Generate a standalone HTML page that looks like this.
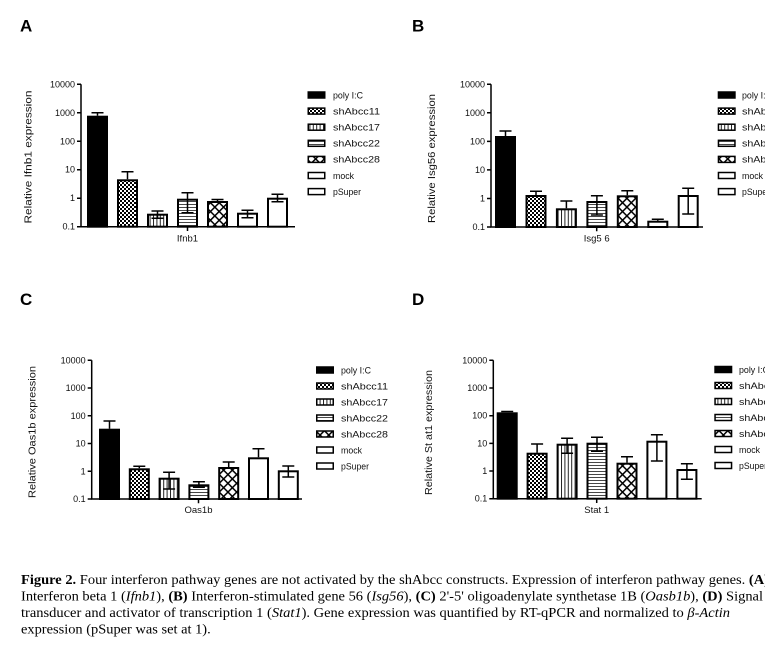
<!DOCTYPE html>
<html><head><meta charset="utf-8"><style>
html,body{margin:0;padding:0;background:#fff;}
svg{display:block;}
.t{font-family:"Liberation Sans",sans-serif;fill:#111;}
.tk{font-size:9px;text-anchor:end;}
.lg{font-size:9.5px;}
.yl{font-size:10px;text-anchor:middle;}
.xl{font-size:9.5px;text-anchor:middle;}
.pl{font-family:"Liberation Sans",sans-serif;font-weight:bold;font-size:17px;fill:#000;}
.cap{font-family:"Liberation Serif",serif;font-size:13.8px;fill:#000;}
</style></head><body>
<svg width="765" height="645" viewBox="0 0 765 645" xmlns="http://www.w3.org/2000/svg">
<defs>
<pattern id="chk" width="4" height="4" patternUnits="userSpaceOnUse"><rect width="4" height="4" fill="#fff"/><rect width="2" height="2" fill="#000"/><rect x="2" y="2" width="2" height="2" fill="#000"/></pattern>
<pattern id="vs" width="3.4" height="4" patternUnits="userSpaceOnUse"><rect width="3.4" height="4" fill="#fff"/><rect width="1" height="4" fill="#222"/></pattern>
<pattern id="hs" width="4" height="3" patternUnits="userSpaceOnUse"><rect width="4" height="3" fill="#fff"/><rect width="4" height="0.9" fill="#333"/></pattern>
<pattern id="xh" width="6.2" height="6.2" patternUnits="userSpaceOnUse" patternTransform="rotate(45)"><rect width="6.2" height="6.2" fill="#fff"/><rect width="1.5" height="6.2" fill="#000"/><rect width="6.2" height="1.5" fill="#000"/></pattern>
</defs>

<!-- Panel letters -->
<text class="pl" x="20" y="31.5">A</text>
<text class="pl" x="412" y="31.5">B</text>
<text class="pl" x="20" y="305">C</text>
<text class="pl" x="412" y="305">D</text>

<!-- ================= PANEL A ================= -->
<g stroke="#000" stroke-width="1.5" fill="none">
<path d="M81 84.3V226.7H295"/>
<path d="M77 84.3H81M77 112.8H81M77 141.3H81M77 169.7H81M77 198.2H81M77 226.7H81M187.5 226.7V231"/>
</g>
<g class="t tk">
<text x="75" y="87.3">10000</text><text x="75" y="115.8">1000</text><text x="75" y="144.3">100</text><text x="75" y="172.7">10</text><text x="75" y="201.2">1</text><text x="75" y="229.7">0.1</text>
</g>
<text class="t yl" transform="translate(31.5,157) rotate(-90)" textLength="133" lengthAdjust="spacingAndGlyphs">Relative  Ifnb1  expression</text>
<text class="t xl" x="187.5" y="241.5">Ifnb1</text>
<g stroke="#000" stroke-width="2">
<rect x="88" y="116.7" width="19" height="110" fill="#000"/>
<rect x="118" y="180.3" width="19" height="46.4" fill="url(#chk)"/>
<rect x="148" y="214.7" width="19" height="12" fill="url(#vs)"/>
<rect x="178" y="199.7" width="19" height="27" fill="url(#hs)"/>
<rect x="208" y="202" width="19" height="24.7" fill="url(#xh)"/>
<rect x="238" y="213.7" width="19" height="13" fill="#fff"/>
<rect x="268" y="198.7" width="19" height="28" fill="#fff"/>
</g>
<g stroke="#000" stroke-width="1.5" fill="none">
<path d="M97.5 115.7V112.7M91.5 112.7H103.5"/>
<path d="M127.5 179.3V171.7M121.5 171.7H133.5"/>
<path d="M157.5 218.3V211M151.5 211H163.5M151.5 218.3H163.5"/>
<path d="M187.5 212.7V192.7M181.5 192.7H193.5M181.5 212.7H193.5"/>
<path d="M217.5 201V199.5M211.5 199.5H223.5"/>
<path d="M247.5 217.7V210.3M241.5 210.3H253.5M241.5 217.7H253.5"/>
<path d="M277.5 201.7V194.3M271.5 194.3H283.5M271.5 201.7H283.5"/>
</g>
<g stroke="#000" stroke-width="1.5">
<rect x="308.25" y="92" width="16.5" height="6" fill="#000"/>
<rect x="308.25" y="108.1" width="16.5" height="6" fill="url(#chk)"/>
<rect x="308.25" y="124.2" width="16.5" height="6" fill="url(#vs)"/>
<rect x="308.25" y="140.3" width="16.5" height="6" fill="url(#hs)"/>
<rect x="308.25" y="156.4" width="16.5" height="6" fill="url(#xh)"/>
<rect x="308.25" y="172.5" width="16.5" height="6" fill="#fff"/>
<rect x="308.25" y="188.6" width="16.5" height="6" fill="#fff"/>
</g>
<g class="t lg">
<text x="333" y="98.3" textLength="30" lengthAdjust="spacingAndGlyphs">poly I:C</text>
<text x="333" y="114.4" textLength="47" lengthAdjust="spacingAndGlyphs">shAbcc11</text>
<text x="333" y="130.5" textLength="47" lengthAdjust="spacingAndGlyphs">shAbcc17</text>
<text x="333" y="146.6" textLength="47" lengthAdjust="spacingAndGlyphs">shAbcc22</text>
<text x="333" y="162.7" textLength="47" lengthAdjust="spacingAndGlyphs">shAbcc28</text>
<text x="333" y="178.8" textLength="21" lengthAdjust="spacingAndGlyphs">mock</text>
<text x="333" y="194.9" textLength="28" lengthAdjust="spacingAndGlyphs">pSuper</text>
</g>

<!-- ================= PANEL B ================= -->
<g stroke="#000" stroke-width="1.5" fill="none">
<path d="M491 84.3V227H703"/>
<path d="M487 84.3H491M487 112.8H491M487 141.4H491M487 169.9H491M487 198.5H491M487 227H491M596.7 227V231.3"/>
</g>
<g class="t tk">
<text x="485" y="87.3">10000</text><text x="485" y="115.8">1000</text><text x="485" y="144.4">100</text><text x="485" y="172.9">10</text><text x="485" y="201.5">1</text><text x="485" y="230">0.1</text>
</g>
<text class="t yl" transform="translate(435.2,158.5) rotate(-90)" textLength="129" lengthAdjust="spacingAndGlyphs">Relative  Isg56 expression</text>
<text class="t xl" x="596.7" y="241.5">Isg5 6</text>
<g stroke="#000" stroke-width="2">
<rect x="496" y="137" width="19" height="90" fill="#000"/>
<rect x="526.5" y="196" width="19" height="31" fill="url(#chk)"/>
<rect x="556.9" y="209.3" width="19" height="17.7" fill="url(#vs)"/>
<rect x="587.4" y="202" width="19" height="25" fill="url(#hs)"/>
<rect x="617.8" y="196.3" width="19" height="30.7" fill="url(#xh)"/>
<rect x="648.3" y="221.7" width="19" height="5.3" fill="#fff"/>
<rect x="678.7" y="196" width="19" height="31" fill="#fff"/>
</g>
<g stroke="#000" stroke-width="1.5" fill="none">
<path d="M505.5 136V131M499.5 131H511.5"/>
<path d="M536 195V191.3M530 191.3H542"/>
<path d="M566.4 208.3V201M560.4 201H572.4"/>
<path d="M596.9 215V195.7M590.9 195.7H602.9M590.9 215H602.9"/>
<path d="M627.3 195.3V190.7M621.3 190.7H633.3"/>
<path d="M657.8 220.7V219.2M651.8 219.2H663.8"/>
<path d="M688.2 214V188.3M682.2 188.3H694.2M682.2 214H694.2"/>
</g>
<g stroke="#000" stroke-width="1.5">
<rect x="718.45" y="92" width="16.5" height="6" fill="#000"/>
<rect x="718.45" y="108.1" width="16.5" height="6" fill="url(#chk)"/>
<rect x="718.45" y="124.2" width="16.5" height="6" fill="url(#vs)"/>
<rect x="718.45" y="140.3" width="16.5" height="6" fill="url(#hs)"/>
<rect x="718.45" y="156.4" width="16.5" height="6" fill="url(#xh)"/>
<rect x="718.45" y="172.5" width="16.5" height="6" fill="#fff"/>
<rect x="718.45" y="188.6" width="16.5" height="6" fill="#fff"/>
</g>
<g class="t lg">
<text x="742" y="98.3" textLength="30" lengthAdjust="spacingAndGlyphs">poly I:C</text>
<text x="742" y="114.4" textLength="47" lengthAdjust="spacingAndGlyphs">shAbcc11</text>
<text x="742" y="130.5" textLength="47" lengthAdjust="spacingAndGlyphs">shAbcc17</text>
<text x="742" y="146.6" textLength="47" lengthAdjust="spacingAndGlyphs">shAbcc22</text>
<text x="742" y="162.7" textLength="47" lengthAdjust="spacingAndGlyphs">shAbcc28</text>
<text x="742" y="178.8" textLength="21" lengthAdjust="spacingAndGlyphs">mock</text>
<text x="742" y="194.9" textLength="28" lengthAdjust="spacingAndGlyphs">pSuper</text>
</g>

<!-- ================= PANEL C ================= -->
<g stroke="#000" stroke-width="1.5" fill="none">
<path d="M91.7 360.3V499H302"/>
<path d="M87.7 360.3H91.7M87.7 388H91.7M87.7 415.8H91.7M87.7 443.5H91.7M87.7 471.3H91.7M87.7 499H91.7M198.5 499V503.3"/>
</g>
<g class="t tk">
<text x="85.7" y="363.3">10000</text><text x="85.7" y="391">1000</text><text x="85.7" y="418.8">100</text><text x="85.7" y="446.5">10</text><text x="85.7" y="474.3">1</text><text x="85.7" y="502">0.1</text>
</g>
<text class="t yl" transform="translate(35.5,432) rotate(-90)" textLength="132" lengthAdjust="spacingAndGlyphs">Relative Oas1b  expression</text>
<text class="t xl" x="198.5" y="513">Oas1b</text>
<g stroke="#000" stroke-width="2">
<rect x="100" y="429.7" width="19" height="69.3" fill="#000"/>
<rect x="129.8" y="469.3" width="19" height="29.7" fill="url(#chk)"/>
<rect x="159.6" y="478.7" width="19" height="20.3" fill="url(#vs)"/>
<rect x="189.4" y="485.3" width="19" height="13.7" fill="url(#hs)"/>
<rect x="219.2" y="468" width="19" height="31" fill="url(#xh)"/>
<rect x="249" y="458.3" width="19" height="40.7" fill="#fff"/>
<rect x="278.8" y="471.3" width="19" height="27.7" fill="#fff"/>
</g>
<g stroke="#000" stroke-width="1.5" fill="none">
<path d="M109.5 428.7V421M103.5 421H115.5"/>
<path d="M139.3 468.3V466.3M133.3 466.3H145.3"/>
<path d="M169.1 489V472.3M163.1 472.3H175.1M163.1 489H175.1"/>
<path d="M198.9 487.3V481.7M192.9 481.7H204.9M192.9 487.3H204.9"/>
<path d="M228.7 467V462M222.7 462H234.7"/>
<path d="M258.5 457.3V448.7M252.5 448.7H264.5"/>
<path d="M288.3 477V466M282.3 466H294.3M282.3 477H294.3"/>
</g>
<g stroke="#000" stroke-width="1.5">
<rect x="316.75" y="367" width="16.5" height="6" fill="#000"/>
<rect x="316.75" y="383" width="16.5" height="6" fill="url(#chk)"/>
<rect x="316.75" y="399" width="16.5" height="6" fill="url(#vs)"/>
<rect x="316.75" y="415" width="16.5" height="6" fill="url(#hs)"/>
<rect x="316.75" y="431" width="16.5" height="6" fill="url(#xh)"/>
<rect x="316.75" y="447" width="16.5" height="6" fill="#fff"/>
<rect x="316.75" y="463" width="16.5" height="6" fill="#fff"/>
</g>
<g class="t lg">
<text x="341" y="373.3" textLength="30" lengthAdjust="spacingAndGlyphs">poly I:C</text>
<text x="341" y="389.3" textLength="47" lengthAdjust="spacingAndGlyphs">shAbcc11</text>
<text x="341" y="405.3" textLength="47" lengthAdjust="spacingAndGlyphs">shAbcc17</text>
<text x="341" y="421.3" textLength="47" lengthAdjust="spacingAndGlyphs">shAbcc22</text>
<text x="341" y="437.3" textLength="47" lengthAdjust="spacingAndGlyphs">shAbcc28</text>
<text x="341" y="453.3" textLength="21" lengthAdjust="spacingAndGlyphs">mock</text>
<text x="341" y="469.3" textLength="28" lengthAdjust="spacingAndGlyphs">pSuper</text>
</g>

<!-- ================= PANEL D ================= -->
<g stroke="#000" stroke-width="1.5" fill="none">
<path d="M493.3 360.3V498.7H701.7"/>
<path d="M489.3 360.3H493.3M489.3 388H493.3M489.3 415.7H493.3M489.3 443.4H493.3M489.3 471H493.3M489.3 498.7H493.3M596.7 498.7V503"/>
</g>
<g class="t tk">
<text x="487.3" y="363.3">10000</text><text x="487.3" y="391">1000</text><text x="487.3" y="418.7">100</text><text x="487.3" y="446.4">10</text><text x="487.3" y="474">1</text><text x="487.3" y="501.7">0.1</text>
</g>
<text class="t yl" transform="translate(431.8,432.5) rotate(-90)" textLength="125" lengthAdjust="spacingAndGlyphs">Relative  St at1 expression</text>
<text class="t xl" x="596.7" y="513">Stat 1</text>
<g stroke="#000" stroke-width="2">
<rect x="497.7" y="413.3" width="19" height="85.4" fill="#000"/>
<rect x="527.6" y="453.7" width="19" height="45" fill="url(#chk)"/>
<rect x="557.6" y="444.7" width="19" height="54" fill="url(#vs)"/>
<rect x="587.5" y="443.7" width="19" height="55" fill="url(#hs)"/>
<rect x="617.5" y="463.7" width="19" height="35" fill="url(#xh)"/>
<rect x="647.4" y="441.7" width="19" height="57" fill="#fff"/>
<rect x="677.4" y="470" width="19" height="28.7" fill="#fff"/>
</g>
<g stroke="#000" stroke-width="1.5" fill="none">
<path d="M507.2 412.3V411.5M501.2 411.5H513.2"/>
<path d="M537.1 452.7V444M531.1 444H543.1"/>
<path d="M567.1 453.3V438.3M561.1 438.3H573.1M561.1 453.3H573.1"/>
<path d="M597 451.3V437.3M591 437.3H603M591 451.3H603"/>
<path d="M627 462.7V456.7M621 456.7H633"/>
<path d="M656.9 461V434.7M650.9 434.7H662.9M650.9 461H662.9"/>
<path d="M686.9 479.3V463.7M680.9 463.7H692.9M680.9 479.3H692.9"/>
</g>
<g stroke="#000" stroke-width="1.5">
<rect x="715.05" y="366.5" width="16.5" height="6" fill="#000"/>
<rect x="715.05" y="382.5" width="16.5" height="6" fill="url(#chk)"/>
<rect x="715.05" y="398.5" width="16.5" height="6" fill="url(#vs)"/>
<rect x="715.05" y="414.5" width="16.5" height="6" fill="url(#hs)"/>
<rect x="715.05" y="430.5" width="16.5" height="6" fill="url(#xh)"/>
<rect x="715.05" y="446.5" width="16.5" height="6" fill="#fff"/>
<rect x="715.05" y="462.5" width="16.5" height="6" fill="#fff"/>
</g>
<g class="t lg">
<text x="739" y="372.8" textLength="30" lengthAdjust="spacingAndGlyphs">poly I:C</text>
<text x="739" y="388.8" textLength="47" lengthAdjust="spacingAndGlyphs">shAbcc11</text>
<text x="739" y="404.8" textLength="47" lengthAdjust="spacingAndGlyphs">shAbcc17</text>
<text x="739" y="420.8" textLength="47" lengthAdjust="spacingAndGlyphs">shAbcc22</text>
<text x="739" y="436.8" textLength="47" lengthAdjust="spacingAndGlyphs">shAbcc28</text>
<text x="739" y="452.8" textLength="21" lengthAdjust="spacingAndGlyphs">mock</text>
<text x="739" y="468.8" textLength="28" lengthAdjust="spacingAndGlyphs">pSuper</text>
</g>

<!-- ================= CAPTION ================= -->
<text class="cap" x="21" y="584" textLength="748" lengthAdjust="spacingAndGlyphs"><tspan font-weight="bold">Figure 2.</tspan> Four interferon pathway genes are not activated by the shAbcc constructs. Expression of interferon pathway genes. <tspan font-weight="bold">(A)</tspan></text>
<text class="cap" x="21" y="600.4" textLength="742" lengthAdjust="spacingAndGlyphs">Interferon beta 1 (<tspan font-style="italic">Ifnb1</tspan>), <tspan font-weight="bold">(B)</tspan> Interferon-stimulated gene 56 (<tspan font-style="italic">Isg56</tspan>), <tspan font-weight="bold">(C)</tspan> 2'-5' oligoadenylate synthetase 1B (<tspan font-style="italic">Oasb1b</tspan>), <tspan font-weight="bold">(D)</tspan> Signal</text>
<text class="cap" x="21" y="616.9" textLength="709" lengthAdjust="spacingAndGlyphs">transducer and activator of transcription 1 (<tspan font-style="italic">Stat1</tspan>). Gene expression was quantified by RT-qPCR and normalized to <tspan font-style="italic">β-Actin</tspan></text>
<text class="cap" x="21" y="633.3" textLength="189.7" lengthAdjust="spacingAndGlyphs">expression (pSuper was set at 1).</text>
</svg>
</body></html>
